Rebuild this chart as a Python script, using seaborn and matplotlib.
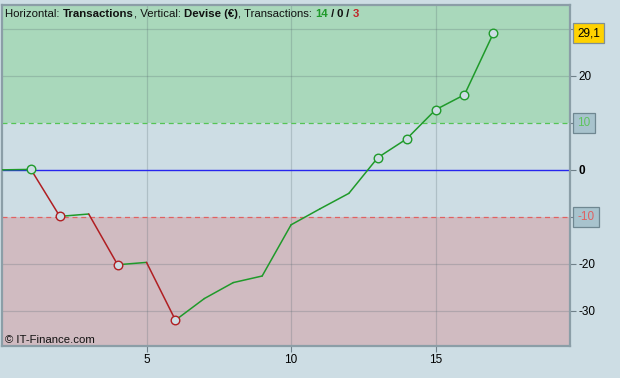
import numpy as np
import pandas as pd
import seaborn as sns
import matplotlib
matplotlib.use("Agg")
import matplotlib.pyplot as plt
from matplotlib.transforms import offset_copy

# ---- data ----
trade_x = [0, 1, 2, 3, 4, 5, 6, 7, 8, 9, 10, 11, 12, 13, 14, 15, 16, 17]
trade_y = [0.0, 0.1, -9.9, -9.4, -20.2, -19.7, -32.0, -27.4, -24.0, -22.6,
           -11.7, -8.3, -5.0, 2.6, 6.6, 12.8, 16.0, 29.1]
marker_x_win = [1, 13, 14, 15, 16, 17]
marker_y_win = [0.1, 2.6, 6.6, 12.8, 16.0, 29.1]
marker_x_loss = [2, 4, 6]
marker_y_loss = [-9.9, -20.2, -32.0]
upper_level = 10
lower_level = -10
last_value = 29.1
last_label = "29,1"
x_ticks = [5, 10, 15]
y_ticks = [30, 20, 10, 0, -10, -20, -30]
y_ticklabels = ["", "20", "", "0", "", "-20", "-30"]
n_win, n_neutral, n_loss = 14, 0, 3

# ---- colours ----
BG = "#cddde4"
GREEN_ZONE = "#a9d8bb"
RED_ZONE = "#d0bbc1"
GREEN = "#1f9a2a"
RED = "#b01e22"
FRAME = "#8b9ea7"

sns.set_theme(style="white")
plt.rcParams["font.family"] = ["Liberation Sans", "DejaVu Sans"]

fig = plt.figure(figsize=(6.2, 3.78), dpi=100, facecolor=BG)
ax = fig.add_axes([2 / 620, 1 - 346 / 378, 568 / 620, 341 / 378])
ax.set_facecolor(BG)

xmin, xmax = 0.0, 19.65
ymin, ymax = -37.5, 35.1
ax.set_xlim(xmin, xmax)
ax.set_ylim(ymin, ymax)

# zones
ax.axhspan(upper_level, ymax, color=GREEN_ZONE, lw=0, zorder=0)
ax.axhspan(ymin, lower_level, color=RED_ZONE, lw=0, zorder=0)

# grid
for gx in x_ticks:
    ax.axvline(gx, color="#54666e", alpha=0.25, lw=0.9, zorder=1)
for gy in [30, 20, -20, -30]:
    ax.axhline(gy, color="#54666e", alpha=0.25, lw=0.9, zorder=1)

ax.axhline(upper_level, color="#55c455", lw=0.9, ls=(0, (4, 3)), zorder=2)
ax.axhline(lower_level, color="#e06262", lw=0.9, ls=(0, (4, 3)), zorder=2)
ax.axhline(0, color="#2626ee", lw=1.0, zorder=2)

# segments coloured by direction
rows = []
for i in range(len(trade_x) - 1):
    d = "up" if trade_y[i + 1] >= trade_y[i] else "down"
    rows.append({"x": trade_x[i], "y": trade_y[i], "seg": i, "dir": d})
    rows.append({"x": trade_x[i + 1], "y": trade_y[i + 1], "seg": i, "dir": d})
df = pd.DataFrame(rows)
sns.lineplot(data=df, x="x", y="y", hue="dir", units="seg", estimator=None,
             palette={"up": GREEN, "down": RED}, lw=1.1, legend=False,
             ax=ax, zorder=3, sort=False)

for mx, my, col in [(marker_x_win, marker_y_win, GREEN),
                    (marker_x_loss, marker_y_loss, RED)]:
    sns.scatterplot(x=mx, y=my, ax=ax, s=38, marker="o", zorder=4, legend=False)
    pts = ax.collections[-1]
    pts.set_facecolor(BG)
    pts.set_edgecolor(col)
    pts.set_linewidth(1.0)

# axes styling
for sp in ax.spines.values():
    sp.set_color(FRAME)
    sp.set_linewidth(1.6)
ax.yaxis.tick_right()
ax.set_xticks(x_ticks)
ax.set_xticklabels([str(t) for t in x_ticks])
ax.set_yticks(y_ticks)
ax.set_yticklabels(y_ticklabels)
ax.tick_params(axis="both", direction="out", length=4, width=0.8,
               color="#6f8089", labelsize=8.5, labelcolor="black", pad=2,
               bottom=True, right=True, left=False)
ax.set_xlabel("")
ax.set_ylabel("")
for lab in ax.get_yticklabels():
    if lab.get_text() == "0":
        lab.set_fontweight("bold")

# boxed labels on the right axis
box_kw = dict(transform=ax.get_yaxis_transform(), ha="left", va="center",
              fontsize=8.5, clip_on=False)
ax.text(1.013, upper_level, str(upper_level), color="#5ec45e",
        bbox=dict(boxstyle="square,pad=0.35", fc="#a8c3cd", ec="#6f8791", lw=0.9),
        **box_kw)
ax.text(1.013, lower_level, str(lower_level), color="#e06060",
        bbox=dict(boxstyle="square,pad=0.35", fc="#a8c3cd", ec="#6f8791", lw=0.9),
        **box_kw)
ax.text(1.013, last_value, last_label, color="black",
        bbox=dict(boxstyle="square,pad=0.35", fc="#ffd200", ec="#7f8f96", lw=0.9),
        **box_kw)

# header text (pieces share a common baseline)
parts = [("Horizontal: ", "normal", "#111111"),
         ("Transactions", "bold", "#111111"),
         (", Vertical: ", "normal", "#111111"),
         ("Devise (€)", "bold", "#111111"),
         (", Transactions: ", "normal", "#111111"),
         (str(n_win), "bold", "#1f9a2a"),
         (" / ", "bold", "#111111"),
         (str(n_neutral), "bold", "#111111"),
         (" / ", "bold", "#111111"),
         (str(n_loss), "bold", "#c0262a")]
renderer = fig.canvas.get_renderer()
offset = 0.0
for s, w, c in parts:
    tr = offset_copy(ax.transAxes, fig=fig, x=offset, y=0, units="dots")
    t = ax.text(3 / 568, 1 - 12 / 341, s, transform=tr, ha="left",
                va="baseline", fontsize=8.2, fontweight=w, color=c)
    offset += t.get_window_extent(renderer).width

ax.text(3 / 568, 6 / 341, "© IT-Finance.com", transform=ax.transAxes,
        ha="left", va="center", fontsize=8.2, color="#111111")

fig.savefig("out.png", dpi=100, facecolor=BG)
